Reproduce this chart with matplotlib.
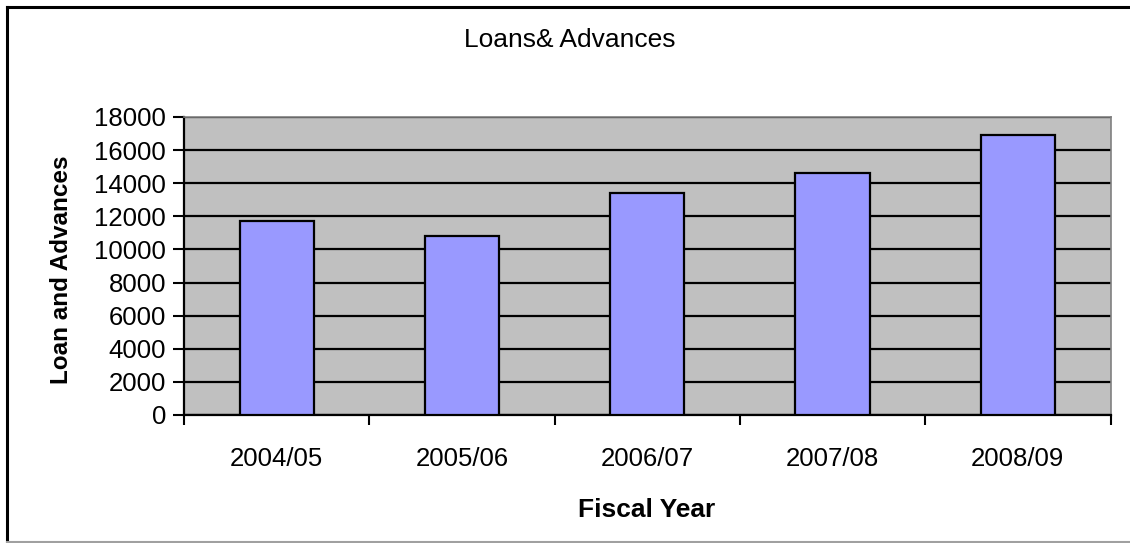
import matplotlib.pyplot as plt
from matplotlib.lines import Line2D
import numpy as np

years = ["2004/05", "2005/06", "2006/07", "2007/08", "2008/09"]
loans = [11700, 10800, 13400, 14600, 16900]
yticks = list(range(0, 18001, 2000))

plt.rcParams['font.family'] = ['Liberation Sans', 'DejaVu Sans']

fig = plt.figure(figsize=(11.3, 5.43), dpi=100)
ax = fig.add_axes([184 / 1130, 128 / 543, 926.5 / 1130, 298 / 543])
ax.set_facecolor('#C0C0C0')

x = np.arange(len(years))
ax.bar(x, loans, width=0.4, color='#9999FF', edgecolor='black', linewidth=1.6, zorder=3)

ax.set_ylim(0, 18000)
ax.set_xlim(-0.5, len(years) - 0.5)
ax.set_yticks(yticks)
ax.yaxis.grid(True, color='black', linewidth=1.6, zorder=1)
ax.set_axisbelow(True)

# ticks on category boundaries, labels centered under the bars
ax.set_xticks(np.arange(-0.5, len(years), 1.0))
ax.set_xticklabels([])
ax.set_xticks(x, minor=True)
ax.set_xticklabels(years, minor=True, fontsize=18.5)
ax.tick_params(axis='x', which='major', direction='out', length=7, width=1.5)
ax.tick_params(axis='x', which='minor', length=0, pad=23)
ax.tick_params(axis='y', direction='out', length=8, width=1.5, labelsize=18.5, pad=5)

for s in ['left', 'bottom']:
    ax.spines[s].set_color('black')
    ax.spines[s].set_linewidth(1.6)
for s in ['top', 'right']:
    ax.spines[s].set_color('#808080')
    ax.spines[s].set_linewidth(1.2)

fig.text(570 / 1130, 1 - 40 / 543, "Loans& Advances", ha='center', va='center', fontsize=19)
fig.text(647 / 1130, 1 - 510 / 543, "Fiscal Year", ha='center', va='center',
         fontsize=19, fontweight='bold')
fig.text(62 / 1130, 1 - 270 / 543, "Loan and Advances", ha='center', va='center',
         rotation=90, fontsize=17.5, fontweight='bold')

# chart frame
fig.add_artist(Line2D([7 / 1130, 7 / 1130], [1 - 7 / 543, 1 - 541 / 543], color='black', lw=2.2))
fig.add_artist(Line2D([7 / 1130, 1.0], [1 - 7 / 543, 1 - 7 / 543], color='black', lw=2.2))
fig.add_artist(Line2D([7 / 1130, 1.0], [1 - 541.5 / 543, 1 - 541.5 / 543], color='#A0A0A0', lw=1.5))

fig.savefig('out.png', dpi=100)
